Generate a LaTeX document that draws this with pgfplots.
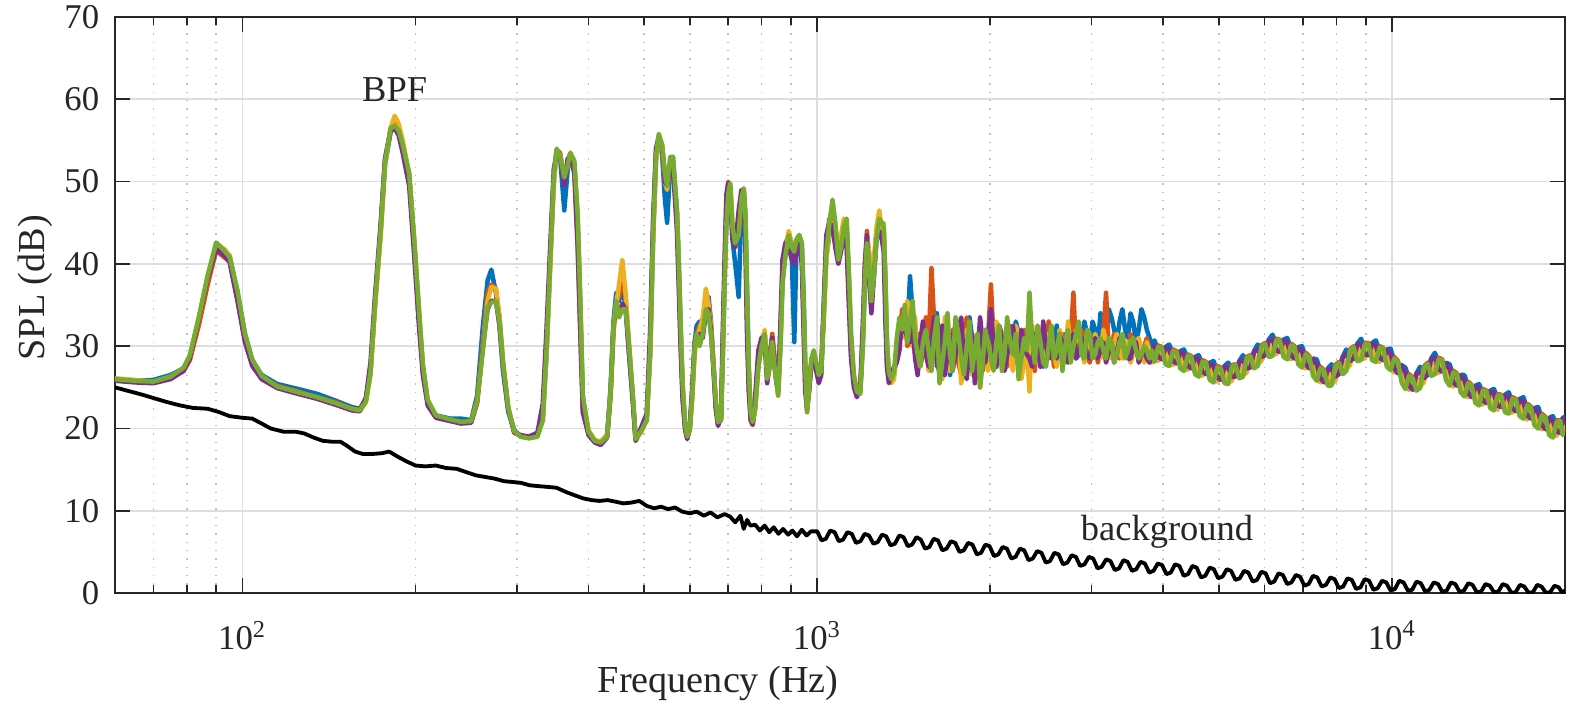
\documentclass[border=0pt]{standalone}
\usepackage{pgfplots}
\pgfplotsset{compat=1.18}
\usepackage{pgfplotstable}
\usepackage{fontspec}
\setmainfont{Liberation Serif}
\definecolor{mblue}{rgb}{0,0.447,0.741}
\definecolor{morange}{rgb}{0.85,0.325,0.098}
\definecolor{myellow}{rgb}{0.929,0.694,0.125}
\definecolor{mpurple}{rgb}{0.494,0.184,0.556}
\definecolor{mgreen}{rgb}{0.466,0.674,0.188}
\definecolor{axgray}{rgb}{0.15,0.15,0.15}

\pgfplotstableread{
f b o y p g
60 26.0 25.9 26.1 25.8 26.0
65 25.8 25.7 25.9 25.6 25.8
70 25.9 25.6 25.7 25.5 25.7
75 26.5 26.2 26.3 26.0 26.3
79 27.3 27.0 27.2 27.0 27.4
81 28.6 28.3 28.8 28.6 28.9
84 33.0 32.6 33.5 33.4 33.6
87 38.0 37.5 38.5 38.3 38.6
90 42.0 41.6 42.5 41.8 42.6
93 41.5 40.8 41.8 41.0 41.6
95 41.0 40.3 41.0 40.2 40.8
98 36.5 35.8 36.0 35.5 36.8
101 31.5 30.8 30.8 30.5 31.5
104 28.3 28.0 27.8 27.6 28.4
108 26.5 26.3 26.0 26.0 26.4
115 25.4 25.2 25.0 24.9 25.1
125 24.8 24.5 24.4 24.2 24.4
135 24.2 23.8 23.6 23.6 23.8
145 23.4 23.2 23.0 22.9 23.1
155 22.6 22.4 22.3 22.2 22.4
160 22.4 22.3 22.1 22.1 22.2
164 23.6 23.5 23.2 23.8 23.3
167 27.0 27.0 26.5 28.0 26.8
170 35.0 35.2 34.5 36.0 35.0
174 44.0 44.5 43.5 45.0 44.2
177 52.0 52.5 52.0 52.8 52.3
181 56.0 56.3 56.5 56.2 56.5
184 56.8 57.0 58.0 56.5 56.8
187 56.0 56.2 57.0 55.6 56.2
190 54.0 54.5 55.0 53.5 54.5
195 50.5 50.8 51.0 49.5 51.0
199 42.0 42.5 43.0 41.0 43.0
203 33.0 33.5 34.0 32.0 34.0
206 27.0 27.5 27.5 26.5 27.8
210 23.2 23.3 23.0 22.8 23.5
217 21.6 21.4 21.5 21.3 21.6
230 21.2 21.0 20.9 20.9 21.1
240 21.2 20.8 20.7 20.6 20.8
250 21.0 20.9 20.8 20.7 20.9
256 24.0 23.5 23.0 23.2 23.3
262 32.5 30.5 30.0 30.0 29.5
267 38.0 36.5 35.5 34.5 34.8
271 39.3 37.5 37.2 35.5 35.3
276 36.5 37.0 37.0 35.5 35.5
280 32.5 33.5 33.5 32.5 33.0
284 27.0 28.0 28.0 27.5 28.0
290 22.0 22.5 22.5 22.3 22.5
297 19.8 19.6 19.5 19.5 19.7
305 19.0 19.1 19.0 19.2 19.0
315 18.9 19.0 19.1 19.0 18.8
326 19.4 19.2 19.2 19.5 19.0
333 21.0 21.5 21.0 23.0 21.0
338 29.0 30.0 29.0 32.0 29.5
343 40.0 40.5 39.5 42.0 40.0
348 50.0 50.5 49.5 51.5 50.5
352 53.5 53.8 53.5 53.5 54.0
357 53.0 53.5 53.2 53.0 53.2
363 46.5 50.0 50.5 49.5 50.5
368 51.5 52.5 52.0 52.8 52.0
372 53.2 53.5 53.0 53.0 53.5
378 52.0 51.0 52.0 51.0 52.5
383 45.0 42.0 45.5 42.5 46.0
387 35.0 32.0 35.5 32.0 36.0
391 23.5 22.0 23.5 22.0 24.0
400 19.5 19.3 19.8 19.2 19.6
410 18.6 18.4 18.6 18.3 18.5
420 18.3 18.2 18.4 18.0 18.3
431 19.2 19.0 19.3 18.9 19.0
437 25.0 24.0 24.0 24.5 24.5
442 33.0 32.0 31.5 32.5 32.5
447 36.5 35.5 35.0 34.5 35.5
452 35.5 36.0 37.5 34.0 33.5
458 37.0 38.0 40.5 35.2 34.5
464 35.0 36.0 36.5 34.5 34.5
470 29.5 30.5 30.5 29.5 30.5
478 23.0 23.5 23.5 23.0 23.8
483 18.8 18.6 18.5 18.5 18.7
495 20.0 20.0 19.7 20.3 19.8
505 21.0 21.3 21.0 21.8 21.0
512 29.0 30.0 29.0 32.0 29.5
518 43.0 44.0 43.0 45.5 43.5
524 52.5 53.5 52.5 54.0 53.0
530 55.5 55.5 55.0 55.5 55.8
537 53.5 54.5 54.0 54.0 54.5
543 48.0 51.0 50.0 50.0 51.0
548 45.0 49.5 49.0 49.5 49.5
555 52.0 52.5 52.5 52.0 53.0
561 53.0 52.0 52.5 51.5 53.0
566 49.0 49.0 48.5 47.5 49.5
570 46.5 45.5 46.0 44.0 46.5
574 40.5 39.0 40.0 37.5 40.5
578 33.0 31.5 33.0 30.5 33.5
583 25.0 24.0 25.5 23.5 25.5
589 20.3 20.0 20.5 19.8 20.5
594 19.0 18.8 19.0 18.7 19.0
600 20.0 19.8 20.0 20.3 19.9
606 24.5 24.0 23.5 25.0 24.0
612 30.5 30.0 29.0 30.5 30.0
617 32.5 31.5 31.0 31.0 31.5
624 33.0 32.5 32.0 31.5 30.0
632 32.0 32.5 33.5 31.0 31.5
640 35.5 35.0 37.0 34.0 34.5
647 36.0 35.5 35.0 34.5 34.0
653 33.0 33.0 32.5 32.0 31.5
660 27.5 28.0 27.5 27.0 27.5
666 22.5 23.0 23.0 22.5 23.5
672 20.5 20.7 20.8 20.3 20.8
680 21.2 21.0 21.5 21.5 21.0
685 29.0 30.0 29.0 32.0 29.0
690 38.0 39.0 38.0 41.0 38.0
695 45.5 47.0 45.5 48.5 45.0
700 48.5 50.0 48.0 49.8 48.5
706 48.5 49.0 49.5 48.0 49.8
712 43.0 44.0 45.0 43.0 44.5
720 40.0 42.5 43.0 42.0 42.5
730 36.0 45.0 44.5 46.5 43.5
738 47.0 48.0 48.5 49.0 48.0
745 49.0 48.5 48.5 47.5 49.2
750 46.0 44.0 45.0 42.0 46.0
755 37.0 33.0 35.0 31.0 36.0
760 27.5 25.5 27.0 24.5 27.5
766 21.5 21.0 21.5 21.0 22.0
772 20.5 20.4 20.6 20.5 20.8
780 22.5 23.0 22.5 24.0 22.5
790 28.0 29.0 27.5 29.5 27.5
800 30.5 31.0 30.0 31.0 30.0
810 31.5 31.5 32.0 30.5 31.5
818 27.5 27.0 26.5 25.5 26.0
826 29.0 28.5 28.0 27.5 27.5
835 31.0 31.5 30.5 31.0 30.5
845 27.0 28.0 27.5 27.0 26.5
855 24.5 25.0 24.0 24.5 24.0
863 30.5 31.5 30.0 33.0 30.0
870 38.0 39.0 38.0 40.5 37.5
880 41.0 42.5 41.5 42.5 41.0
892 43.0 43.5 44.0 42.0 43.5
903 41.0 42.5 42.5 40.5 42.0
912 30.5 41.5 42.0 40.0 41.5
920 42.0 42.5 42.5 41.5 43.0
930 43.5 43.0 43.5 42.5 43.5
940 42.5 41.0 41.5 40.0 42.5
947 36.0 33.0 34.0 31.5 35.0
953 28.0 25.5 27.0 24.5 27.5
960 23.0 22.0 22.5 22.5 22.0
968 25.0 25.5 25.0 24.5 25.0
977 28.0 28.5 27.5 28.0 28.5
986 28.8 29.0 29.0 28.5 29.5
996 27.5 28.0 27.5 27.0 28.0
1006 26.0 26.5 26.0 25.5 26.5
1016 27.0 27.5 27.5 26.5 27.0
1026 33.5 34.5 33.0 35.0 33.5
1037 41.0 43.0 40.5 43.5 41.5
1050 43.5 45.5 44.0 45.0 45.0
1063 44.5 46.0 45.0 44.5 47.8
1075 43.0 44.0 44.5 42.0 45.0
1088 40.5 41.0 42.0 40.0 40.5
1100 43.0 42.5 43.5 41.5 42.0
1112 45.0 44.0 45.5 43.5 44.5
1125 44.5 43.0 44.5 42.0 45.5
1135 38.0 36.0 38.5 35.0 39.0
1145 30.0 29.0 31.0 28.5 31.5
1158 26.0 25.5 26.5 25.0 26.5
1172 24.3 24.0 24.5 23.8 24.5
1188 24.5 24.8 24.5 25.0 24.2
1200 30.0 31.5 30.5 32.5 30.0
1210 37.5 39.5 38.0 40.0 38.0
1220 43.0 44.0 43.5 43.5 42.5
1230 41.5 40.0 41.5 38.5 40.5
1242 36.0 34.5 37.0 34.0 35.5
1255 39.0 40.0 40.5 38.5 38.5
1268 43.5 44.0 44.5 43.0 43.0
1282 45.0 45.5 46.5 44.0 45.5
1295 43.0 44.5 44.0 43.0 45.0
1305 44.0 43.0 45.0 41.5 44.5
1314 37.5 35.0 38.0 33.0 38.0
1322 30.0 28.0 30.5 27.5 30.5
1332 26.5 26.0 27.0 25.5 26.8
1345 26.0 26.5 25.5 26.5 26.0
1360 26.5 27.0 26.0 27.5 26.8
1375 29.0 28.5 30.0 28.0 31.0
1390 31.0 30.5 32.0 29.5 33.5
1405 33.0 34.5 31.0 33.5 32.0
1420 34.5 33.0 34.5 32.0 35.0
1435 32.0 30.0 35.5 31.0 30.5
1450 38.5 31.0 32.5 30.5 33.0
1465 34.0 33.0 30.0 32.5 35.5
1480 30.0 29.0 33.5 28.5 31.0
1495 27.0 31.5 27.5 26.5 29.0
1510 28.5 27.5 29.0 30.5 27.5
1527 31.0 29.0 32.5 33.0 30.5
1545 32.5 33.5 31.0 29.0 32.0
1562 27.5 30.0 27.0 27.5 29.5
1580 29.0 39.5 28.0 31.0 27.0
1597 31.5 33.0 30.0 33.5 31.0
1615 34.0 28.5 32.5 27.5 33.5
1632 29.0 26.5 29.5 29.0 25.5
1650 27.5 30.0 26.0 32.5 28.0
1667 30.5 31.5 33.5 26.5 30.5
1685 32.0 27.5 31.5 29.0 34.0
1702 26.5 29.5 27.0 31.5 29.0
1720 28.5 32.0 29.0 27.0 27.0
1740 33.0 30.5 30.5 29.0 33.5
1760 31.5 28.0 33.0 31.5 31.5
1780 29.0 26.5 25.5 33.5 28.5
1800 27.0 31.5 27.5 28.0 26.5
1820 30.0 33.5 32.0 26.0 30.0
1840 33.5 29.0 30.5 30.0 33.0
1860 31.0 31.0 26.5 31.5 27.0
1880 28.0 26.5 28.0 25.5 29.5
1900 27.0 29.5 30.5 28.5 31.5
1920 30.5 32.0 25.0 33.5 25.0
1940 29.0 27.0 29.0 30.5 28.0
1960 32.0 28.5 31.5 28.0 32.0
1982 30.0 31.0 27.0 31.0 30.5
2005 28.5 37.5 29.0 34.5 28.5
2027 33.0 30.5 31.0 30.0 27.0
2050 31.0 29.0 33.0 27.5 30.5
2072 28.0 32.5 29.5 32.5 32.5
2095 29.0 31.5 27.5 31.0 27.0
2117 30.5 29.0 31.5 27.0 29.0
2140 32.5 27.5 30.5 29.0 33.5
2165 29.5 32.5 29.0 30.5 30.5
2190 28.0 30.5 27.0 32.5 29.0
2215 33.0 29.0 32.5 29.5 31.5
2240 31.5 28.0 31.0 27.5 26.0
2265 29.0 30.0 26.0 32.0 28.5
2290 27.5 32.0 28.0 30.0 31.0
2315 32.0 27.5 29.5 29.0 29.5
2340 30.5 29.5 24.5 28.5 36.5
2365 28.5 31.0 32.5 27.5 30.5
2390 32.0 27.0 30.0 31.5 28.0
2417 31.0 32.5 28.5 30.0 32.5
2445 29.5 31.0 32.0 27.5 30.5
2472 27.5 29.0 30.0 33.0 28.0
2500 31.0 28.5 28.5 30.0 27.5
2527 32.5 33.0 31.5 28.5 30.0
2555 28.5 30.5 31.5 32.0 32.5
2582 30.0 27.5 29.0 30.5 28.5
2610 32.5 29.0 27.5 28.5 29.5
2640 29.0 31.0 32.0 31.5 31.5
2670 30.0 31.5 30.5 30.5 27.0
2700 31.5 29.5 28.0 29.0 30.0
2730 29.0 28.5 33.0 28.0 32.0
2760 33.0 31.0 30.0 30.5 28.0
2790 31.5 36.5 29.0 31.5 30.0
2820 28.5 29.5 32.0 28.5 31.5
2850 29.5 29.0 31.0 29.0 33.0
2882 30.5 32.0 29.5 31.0 29.0
2915 33.0 30.5 28.0 30.5 28.5
2947 31.5 29.0 31.5 29.0 32.0
2980 30.0 28.0 30.0 28.5 31.5
3012 33.0 30.5 28.5 30.0 28.5
3045 32.0 31.0 31.5 31.0 29.0
3077 30.0 28.0 30.0 28.5 30.5
3110 34.0 29.5 28.5 29.5 31.0
3145 31.5 31.5 32.0 30.5 29.5
3180 31.0 36.5 30.5 28.0 28.5
3215 34.5 29.5 28.5 29.5 31.0
3250 33.5 30.0 29.0 30.5 30.5
3285 32.0 31.5 30.5 28.0 28.0
3320 30.5 29.5 31.5 29.0 29.0
3357 33.0 28.5 29.5 31.0 30.5
3395 34.5 31.0 28.5 30.5 31.5
3432 32.0 30.0 30.0 29.5 28.5
3470 31.0 29.0 30.5 28.5 29.5
3507 34.0 31.5 28.0 28.5 30.5
3545 33.0 30.5 29.0 30.0 31.0
3585 30.5 29.5 30.5 30.5 29.5
3625 32.0 28.5 31.0 28.0 28.5
3665 34.5 29.0 29.5 29.0 29.0
3705 33.5 30.0 28.0 29.5 30.0
3745 32.0 31.0 30.5 28.5 29.5
3785 31.0 28.5 29.5 28.0 28.5
3822 30.0 29.5 28.0 29.0 29.5
3860 30.7 28.4 28.3 30.1 28.1
3918 29.6 30.1 28.2 28.7 29.9
3976 28.8 29.9 29.4 28.4 29.8
4035 29.9 28.3 29.4 29.8 27.8
4095 30.2 27.9 27.8 29.6 27.6
4156 29.1 29.6 27.7 28.2 29.4
4218 28.3 29.4 28.9 27.9 29.3
4281 29.4 27.8 28.9 29.3 27.3
4344 29.6 27.3 27.2 29.0 27.0
4409 28.5 29.0 27.1 27.6 28.8
4475 27.7 28.8 28.3 27.3 28.7
4542 28.7 27.1 28.2 28.6 26.6
4609 28.9 26.6 26.5 28.3 26.3
4678 27.8 28.3 26.4 26.9 28.1
4747 27.0 28.1 27.6 26.6 28.0
4818 28.0 26.4 27.5 27.9 25.9
4890 28.2 25.9 25.8 27.6 25.6
4963 27.1 27.6 25.7 26.2 27.4
5036 26.3 27.4 26.9 25.9 27.3
5111 27.6 26.0 27.1 27.5 25.5
5187 28.0 25.7 25.6 27.4 25.4
5265 27.2 27.7 25.8 26.3 27.5
5343 26.7 27.8 27.3 26.3 27.7
5423 28.2 26.6 27.7 28.1 26.1
5503 28.9 26.6 26.5 28.3 26.3
5585 28.2 28.7 26.8 27.3 28.5
5668 27.8 28.9 28.4 27.4 28.8
5753 29.4 27.8 28.9 29.3 27.3
5838 30.2 27.9 27.8 29.6 27.6
5925 29.6 30.1 28.2 28.7 29.9
6014 29.3 30.4 29.9 28.9 30.3
6103 30.8 29.2 30.3 30.7 28.7
6194 31.4 29.1 29.0 30.8 28.8
6287 30.4 30.9 29.0 29.5 30.7
6380 29.7 30.8 30.3 29.3 30.7
6475 30.8 29.2 30.3 30.7 28.7
6571 31.0 28.7 28.6 30.4 28.4
6669 29.8 30.3 28.4 28.9 30.1
6768 28.9 30.0 29.5 28.5 29.9
6869 29.9 28.3 29.4 29.8 27.8
6971 30.0 27.7 27.6 29.4 27.4
7075 28.7 29.2 27.3 27.8 29.0
7181 27.7 28.8 28.3 27.3 28.7
7288 28.5 26.9 28.0 28.4 26.4
7396 28.4 26.1 26.0 27.8 25.8
7506 27.0 27.5 25.6 26.1 27.3
7618 26.0 27.1 26.6 25.6 27.0
7732 27.3 25.7 26.8 27.2 25.2
7847 27.8 25.5 25.4 27.2 25.2
7964 27.2 27.7 25.8 26.3 27.5
8082 27.0 28.1 27.6 26.6 28.0
8203 28.7 27.1 28.2 28.6 26.6
8325 29.6 27.3 27.2 29.0 27.0
8449 29.1 29.6 27.7 28.2 29.4
8574 28.9 30.0 29.5 28.5 29.9
8702 30.3 28.7 29.8 30.2 28.2
8832 30.9 28.6 28.5 30.3 28.3
8964 29.9 30.4 28.5 29.0 30.2
9097 29.3 30.4 29.9 28.9 30.3
9233 30.4 28.8 29.9 30.3 28.3
9370 30.7 28.4 28.3 30.1 28.1
9510 29.5 30.0 28.1 28.6 29.8
9651 28.7 29.8 29.3 28.3 29.7
9795 29.6 28.0 29.1 29.5 27.5
9940 29.7 27.4 27.3 29.1 27.1
10088 28.2 28.7 26.8 27.3 28.5
10238 27.1 28.2 27.7 26.7 28.1
10390 27.7 26.1 27.2 27.6 25.6
10545 27.4 25.1 25.0 26.8 24.8
10702 26.1 26.6 24.7 25.2 26.4
10862 25.1 26.2 25.7 24.7 26.1
11024 26.7 25.1 26.2 26.6 24.6
11188 27.5 25.2 25.1 26.9 24.9
11354 27.0 27.5 25.6 26.1 27.3
11523 26.9 28.0 27.5 26.5 27.9
11695 28.5 26.9 28.0 28.4 26.4
11869 29.2 26.9 26.8 28.6 26.6
12046 28.1 28.6 26.7 27.2 28.4
12225 27.3 28.4 27.9 26.9 28.3
12407 28.0 26.4 27.5 27.9 25.9
12592 27.8 25.5 25.4 27.2 25.2
12780 26.5 27.0 25.1 25.6 26.8
12970 25.6 26.7 26.2 25.2 26.6
13163 26.5 24.9 26.0 26.4 24.4
13359 26.5 24.2 24.1 25.9 23.9
13558 25.2 25.7 23.8 24.3 25.5
13759 24.2 25.3 24.8 23.8 25.2
13964 25.2 23.6 24.7 25.1 23.1
14172 25.4 23.1 23.0 24.8 22.8
14384 24.3 24.8 22.9 23.4 24.6
14597 23.5 24.6 24.1 23.1 24.5
14815 24.6 23.0 24.1 24.5 22.5
15035 24.8 22.5 22.4 24.2 22.2
15260 23.7 24.2 22.3 22.8 24.0
15486 23.0 24.1 23.6 22.6 24.0
15718 24.1 22.5 23.6 24.0 22.0
15951 24.4 22.1 22.0 23.8 21.8
16189 23.3 23.8 21.9 22.4 23.6
16430 22.5 23.6 23.1 22.1 23.5
16675 23.6 22.0 23.1 23.5 21.5
16922 23.8 21.5 21.4 23.2 21.2
17175 22.5 23.0 21.1 21.6 22.8
17430 21.6 22.7 22.2 21.2 22.6
17690 22.5 20.9 22.0 22.4 20.4
17953 22.6 20.3 20.2 22.0 20.0
18221 21.3 21.8 19.9 20.4 21.6
18492 20.3 21.4 20.9 19.9 21.3
18768 21.3 19.7 20.8 21.2 19.2
19046 21.5 19.2 19.1 20.9 18.9
19331 20.5 21.0 19.1 19.6 20.8
19618 19.9 21.0 20.5 19.5 20.9
19809 21.3 19.7 20.8 21.2 19.2
20000 21.4 19.9 19.7 20.5 19.8
}\spl

\pgfplotstableread{
f bg
60 25.0
63 24.6
67 24.1
70 23.7
74 23.2
78 22.8
82 22.5
87 22.4
91 22.0
95 21.5
100 21.3
104 21.2
108 20.6
112 20.0
118 19.6
124 19.6
128 19.4
133 18.9
138 18.5
143 18.4
148 18.4
152 17.9
157 17.2
162 16.9
168 16.9
175 17.0
180 17.2
186 16.6
193 16.0
200 15.5
208 15.4
217 15.5
226 15.2
236 15.1
245 14.7
255 14.3
265 14.1
275 13.9
285 13.6
295 13.5
305 13.4
316 13.1
327 13.0
340 12.9
352 12.8
365 12.3
378 11.9
392 11.5
405 11.3
418 11.2
432 11.3
446 11.1
460 10.9
475 11.0
490 11.2
505 10.6
520 10.3
535 10.5
550 10.2
566 10.4
582 9.9
600 9.7
617 9.9
635 9.4
652 9.8
670 9.2
690 9.6
705 9.3
720 8.6
735 9.4
745 7.8
755 8.9
765 8.2
780 8.3
795 7.6
810 8.2
825 7.4
840 8.0
856 7.2
872 7.8
890 7.1
905 7.6
922 6.9
940 7.7
958 7.0
975 7.5
1000 7.5
1017 6.4
1035 6.6
1053 7.6
1072 7.4
1090 6.3
1109 6.5
1128 7.4
1148 7.2
1168 6.1
1189 6.3
1209 7.2
1230 7.0
1252 6.0
1274 6.2
1296 7.1
1318 6.9
1341 5.8
1365 6.0
1389 7.0
1413 6.8
1437 5.7
1462 5.9
1488 6.8
1514 6.5
1540 5.4
1567 5.6
1594 6.6
1622 6.4
1650 5.2
1679 5.4
1708 6.3
1738 6.1
1768 5.0
1799 5.2
1830 6.1
1862 5.9
1895 4.7
1928 4.9
1961 5.9
1995 5.7
2030 4.5
2065 4.7
2101 5.6
2138 5.4
2175 4.2
2213 4.4
2252 5.4
2291 5.2
2331 4.0
2371 4.2
2413 5.1
2455 4.9
2498 3.7
2541 3.9
2585 4.9
2630 4.7
2676 3.5
2723 3.7
2770 4.6
2818 4.4
2867 3.3
2917 3.5
2968 4.4
3020 4.2
3073 3.0
3126 3.2
3181 4.1
3236 3.9
3293 2.8
3350 3.0
3408 4.0
3467 3.8
3528 2.7
3589 2.9
3652 3.8
3715 3.6
3780 2.5
3846 2.7
3913 3.6
3981 3.4
4050 2.3
4121 2.5
4193 3.5
4266 3.3
4340 2.1
4416 2.3
4493 3.3
4571 3.1
4651 1.9
4732 2.1
4815 3.1
4898 2.9
4983 1.8
5070 2.0
5158 2.9
5248 2.7
5340 1.6
5433 1.8
5527 2.7
5623 2.5
5721 1.4
5821 1.6
5923 2.6
6026 2.4
6131 1.2
6237 1.4
6346 2.4
6457 2.2
6569 1.1
6683 1.3
6800 2.2
6918 2.0
7038 0.9
7161 1.1
7286 2.1
7413 1.9
7542 0.8
7674 1.0
7807 1.9
7943 1.7
8081 0.6
8222 0.8
8365 1.8
8511 1.6
8659 0.5
8810 0.7
8963 1.7
9120 1.5
9279 0.4
9441 0.6
9605 1.5
9772 1.3
9942 0.3
10116 0.5
10292 1.5
10471 1.3
10653 0.3
10839 0.4
11028 1.4
11220 1.2
11416 0.2
11614 0.4
11817 1.3
12023 1.1
12232 0.15
12445 0.3
12662 1.3
12882 1.1
13106 0.15
13335 0.3
13568 1.2
13804 1.0
14044 0.1
14289 0.2
14538 1.1
14791 0.9
15049 0.1
15311 0.2
15578 1.1
15849 0.9
16125 0.05
16406 0.1
16691 1.0
16982 0.8
17278 0.05
17579 0.1
17886 1.0
18197 0.8
18514 0.05
18836 0.1
19164 0.9
19498 0.7
19749 0.1
20000 0.3
}\bgnd

\begin{document}
\begin{tikzpicture}
\begin{axis}[
  width=417.6pt, height=165.9pt, scale only axis,
  xmode=log, log basis x=10,
  xmin=60, xmax=20000, ymin=0, ymax=70,
  xtick={100,1000,10000},
  xticklabels={10\textsuperscript{2},10\textsuperscript{3},10\textsuperscript{4}},
  minor xtick={60,70,80,90,200,300,400,500,600,700,800,900,2000,3000,4000,5000,6000,7000,8000,9000},
  ytick={0,10,20,30,40,50,60,70},
  /pgf/number format/assume math mode=true,
  tick align=inside,
  xtick pos=both, ytick pos=both,
  major tick length=4.3pt, minor tick length=2.3pt,
  xmajorgrids, xminorgrids, ymajorgrids,
  major grid style={black!13, line width=0.5pt},
  minor grid style={black!25, dotted, line width=0.5pt},
  axis line style={axgray, line width=0.6pt},
  every tick/.style={axgray, line width=0.5pt},
  ticklabel style={font=\fontsize{10}{12}\selectfont, text=axgray},
  xticklabel style={yshift=-4.5pt},
  yticklabel style={xshift=-1pt},
  xlabel={Frequency (Hz)},
  ylabel={SPL (dB)},
  every axis x label/.style={at={(axis description cs:0.416,0)}, anchor=center, yshift=-25.9pt, font=\fontsize{11}{13}\selectfont, text=axgray},
  every axis y label/.style={at={(axis description cs:0,0.53)}, anchor=center, rotate=90, yshift=23pt, font=\fontsize{11}{13}\selectfont, text=axgray},
  every axis plot/.append style={line join=round},
]
\coordinate (SW) at (rel axis cs:0,0);
\coordinate (NE) at (rel axis cs:1,1);
\addplot[black, line width=1.1pt] table[x=f, y=bg] {\bgnd};
\addplot[mblue, line width=1.3pt] table[x=f, y=b] {\spl};
\addplot[morange, line width=1.3pt] table[x=f, y=o] {\spl};
\addplot[myellow, line width=1.3pt] table[x=f, y=y] {\spl};
\addplot[mpurple, line width=1.3pt] table[x=f, y=p] {\spl};
\addplot[mgreen, line width=1.3pt] table[x=f, y=g] {\spl};
\node[anchor=base, font=\fontsize{10.5}{12}\selectfont, text=axgray] at (axis cs:184,59.7) {BPF};
\node[anchor=base, font=\fontsize{10.5}{12}\selectfont, text=axgray] at (axis cs:4060,6.4) {background};
\end{axis}
\pgfresetboundingbox
\path[use as bounding box] ([xshift=-33.1pt,yshift=-32.0pt]SW) rectangle ([xshift=4.3pt,yshift=4.9pt]NE);
\end{tikzpicture}
\end{document}
